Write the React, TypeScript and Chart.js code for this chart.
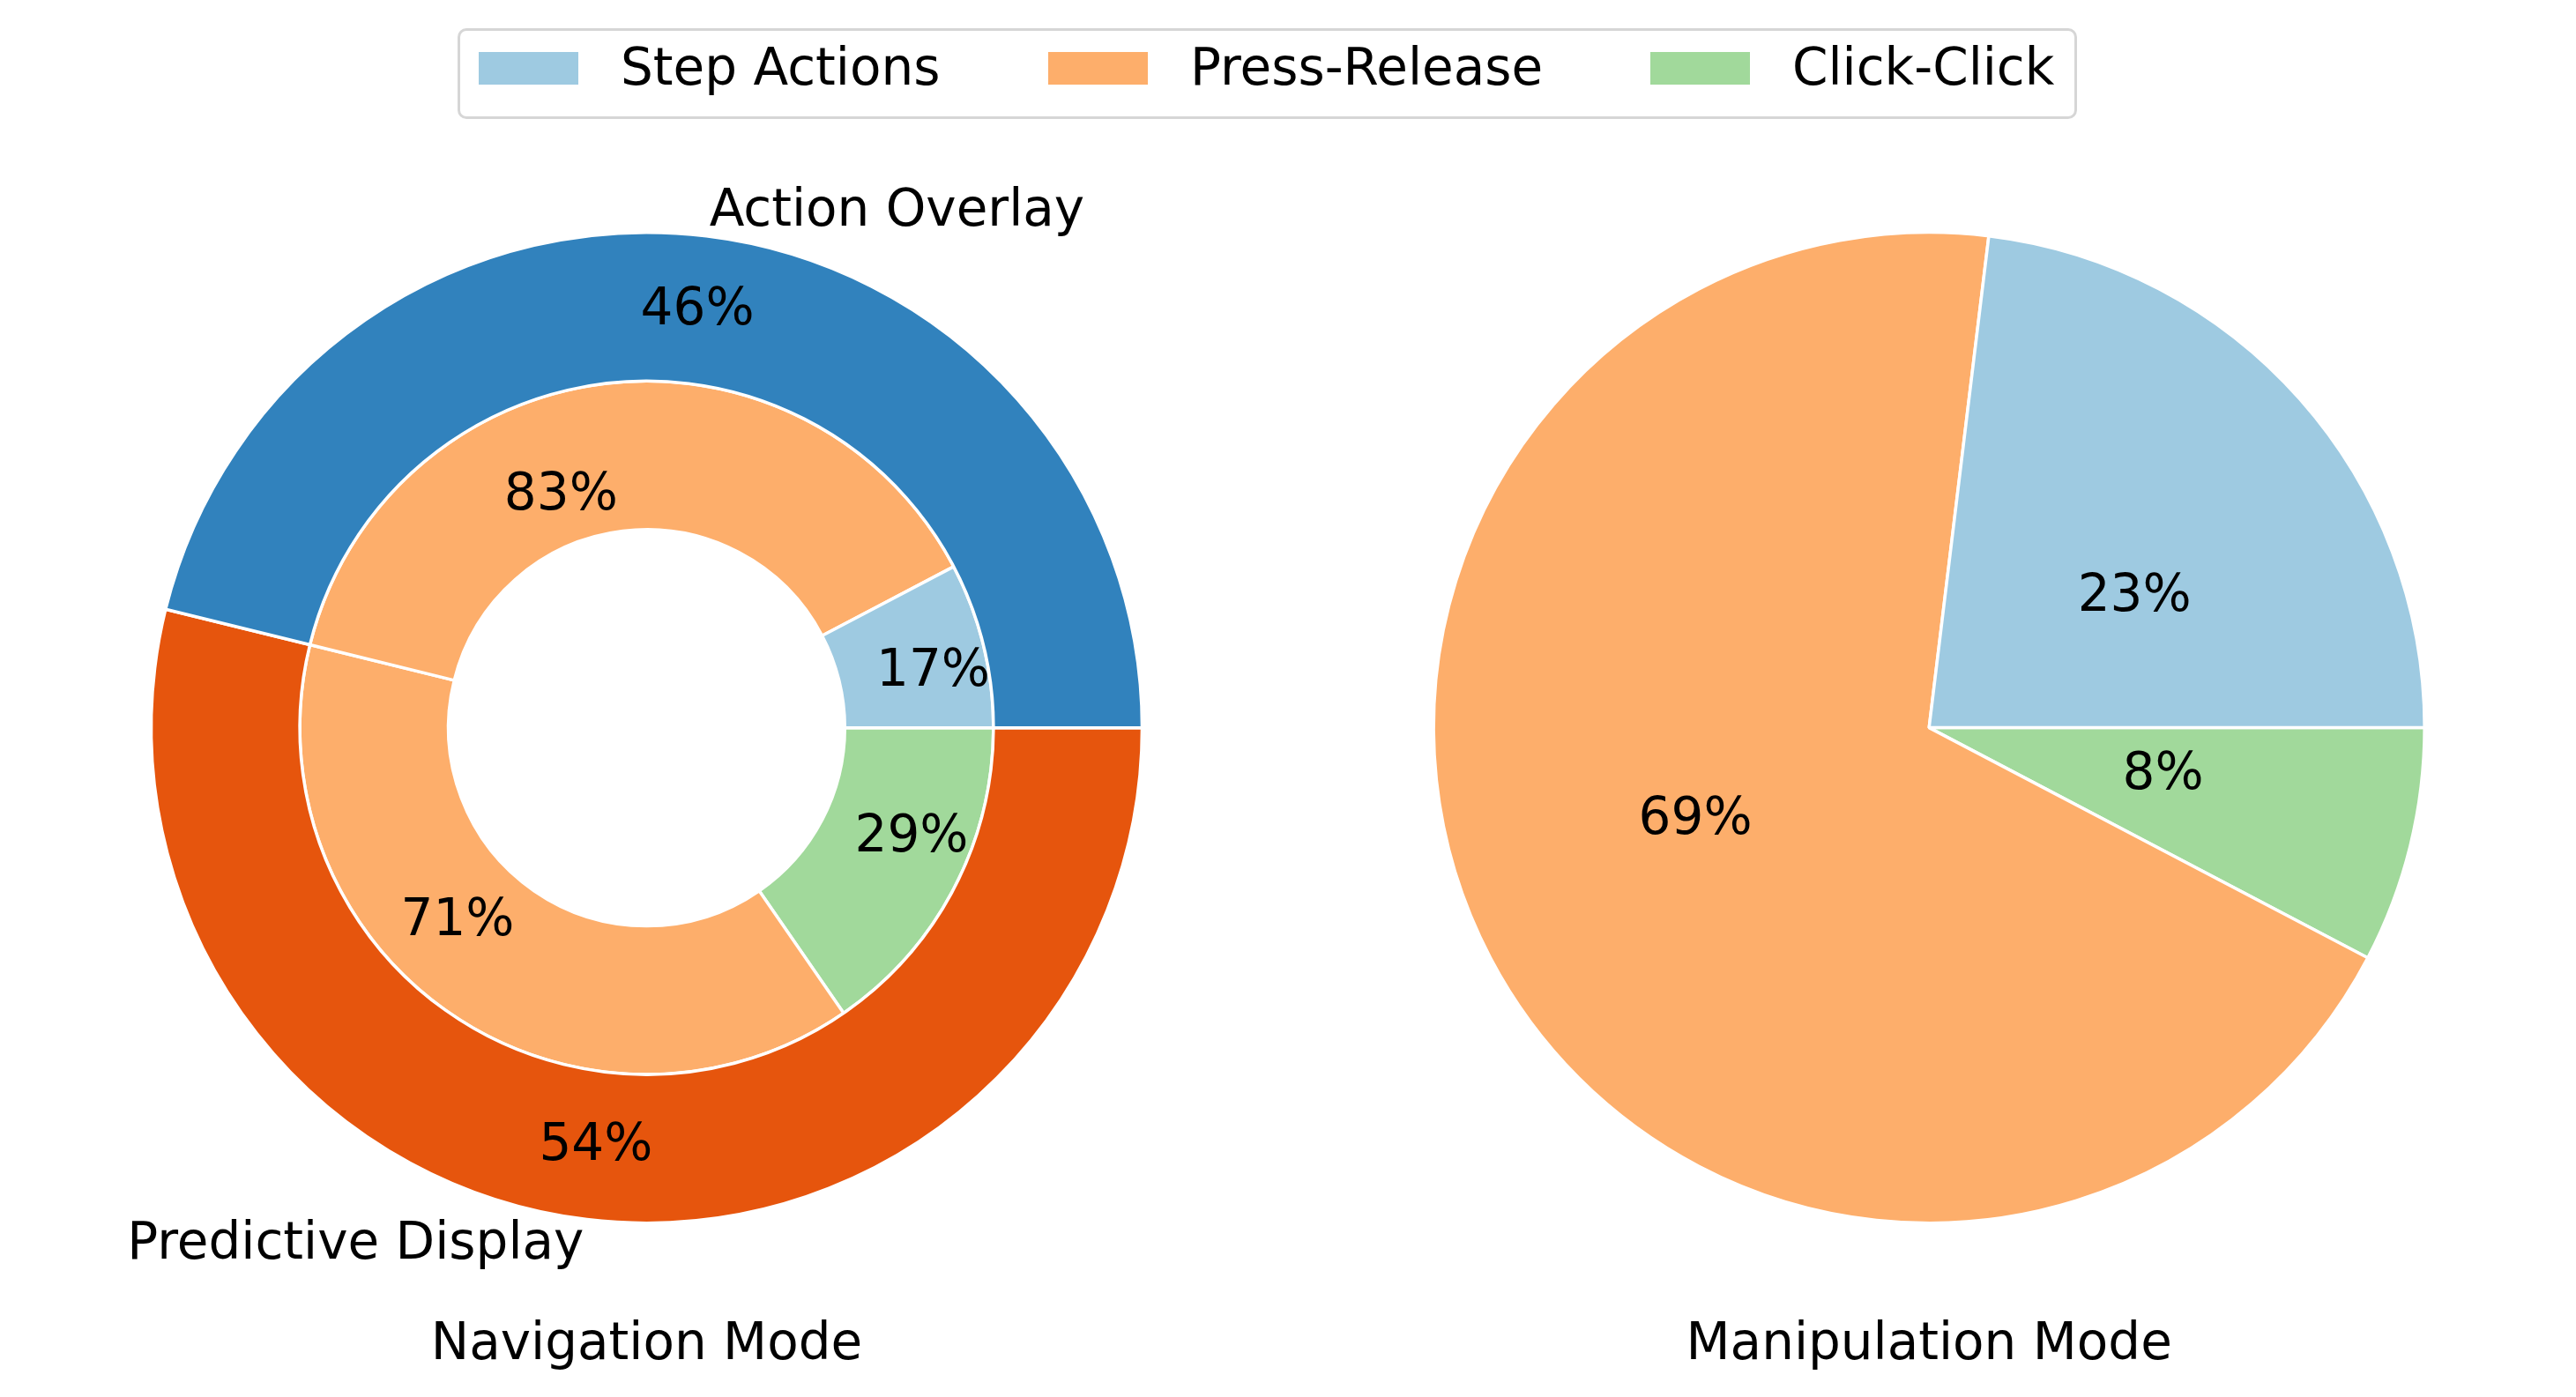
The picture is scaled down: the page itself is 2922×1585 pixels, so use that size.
import React, { useEffect, useRef } from 'react';
import { Chart, registerables } from 'chart.js';

Chart.register(...registerables);

// ---------------- data ----------------
const legendLabels = ['Step Actions', 'Press-Release', 'Click-Click'];
const legendColors = ['#9ecae1', '#fdae6b', '#a1d99b'];

const navGroupLabels = ['Action Overlay', 'Predictive Display'];
const navGroupColors = ['#3182bd', '#e6550d'];
const navOverlayCounts = [1, 5]; // Step Actions, Press-Release
const navOverlayColors = ['#9ecae1', '#fdae6b'];
const navPredictiveCounts = [5, 2]; // Press-Release, Click-Click
const navPredictiveColors = ['#fdae6b', '#a1d99b'];

const manipLabels = ['Step Actions', 'Press-Release', 'Click-Click'];
const manipCounts = [3, 9, 1];
const manipColors = ['#9ecae1', '#fdae6b', '#a1d99b'];

const subplotTitles = ['Navigation Mode', 'Manipulation Mode'];

// ---------------- layout ----------------
const W = 2922;
const H = 1585;
const PANEL_W = 1461;
const RADIUS = 562;
const LEFT_CENTER = { x: 733.5, y: 825.7 };
const RIGHT_CENTER = { x: 2188.2, y: 825.6 };
const FONT_PX = 58;
const FONT = `${FONT_PX}px "DejaVu Sans", sans-serif`;
const CAP_HALF = FONT_PX * 0.3645;
const TITLE_DY = 695.5;
const OUTER_PCT_DIST = 0.85;
const GROUP_LABEL_DIST = 1.05;
// [angle (deg, counter-clockwise from 3 o'clock), distance as fraction of radius]
const navInnerLabelPos = [
  [11.9, 0.591],
  [109.9, 0.508],
  [224.9, 0.539],
  [-21.6, 0.575],
];
const manipLabelPos = [
  [33.5, 0.497],
  [200.6, 0.504],
  [-10.3, 0.48],
];
const BORDER_W = 3.5;

const sum = (a: number[]) => a.reduce((s, v) => s + v, 0);
const pct = (v: number, total: number) => `${Math.round((v / total) * 100)}%`;

function drawInk(ctx: CanvasRenderingContext2D, text: string, x: number, inkCy: number, align: CanvasTextAlign = 'center') {
  ctx.font = FONT;
  ctx.fillStyle = '#000';
  ctx.textAlign = align;
  ctx.textBaseline = 'alphabetic';
  ctx.fillText(text, x, inkCy + CAP_HALF);
}

export default function App() {
  const leftRef = useRef<HTMLCanvasElement>(null);
  const rightRef = useRef<HTMLCanvasElement>(null);

  useEffect(() => {
    const charts: Chart[] = [];

    // ---- left: nested donut ----
    const groupTotals = [sum(navOverlayCounts), sum(navPredictiveCounts)];
    const navTotal = sum(groupTotals);
    const innerValues = [...navOverlayCounts, ...navPredictiveCounts];
    const innerColors = [...navOverlayColors, ...navPredictiveColors];
    const innerLabels = [
      ...navOverlayCounts.map((v) => pct(v, groupTotals[0])),
      ...navPredictiveCounts.map((v) => pct(v, groupTotals[1])),
    ];

    const leftPlugin = {
      id: 'navLabels',
      afterDatasetsDraw(chart: any) {
        const ctx: CanvasRenderingContext2D = chart.ctx;
        const meta = chart.getDatasetMeta(0);
        const arcs = meta.data;
        const n = groupTotals.length;
        let cx = 0;
        let cy = 0;
        let R = RADIUS;
        ctx.save();
        arcs.forEach((arc: any, i: number) => {
          const idx = n - 1 - i;
          const p = arc.getProps(['x', 'y', 'startAngle', 'endAngle', 'outerRadius'], true);
          cx = p.x;
          cy = p.y;
          R = p.outerRadius;
          const mid = (p.startAngle + p.endAngle) / 2;
          const px = p.x + OUTER_PCT_DIST * R * Math.cos(mid);
          const py = p.y + OUTER_PCT_DIST * R * Math.sin(mid);
          drawInk(ctx, pct(groupTotals[idx], navTotal), px, py - 5);
          const lx = p.x + GROUP_LABEL_DIST * R * Math.cos(mid);
          const ly = p.y + GROUP_LABEL_DIST * R * Math.sin(mid);
          drawInk(ctx, navGroupLabels[idx], lx, ly - 5, Math.cos(mid) >= 0 ? 'left' : 'right');
        });
        innerLabels.forEach((t, i) => {
          const [a, f] = navInnerLabelPos[i];
          const rad = (a * Math.PI) / 180;
          drawInk(ctx, t, cx + f * R * Math.cos(rad), cy - f * R * Math.sin(rad));
        });
        drawInk(ctx, subplotTitles[0], cx, cy + TITLE_DY);
        ctx.restore();
      },
    };

    if (leftRef.current) {
      charts.push(
        new Chart(leftRef.current, {
          type: 'doughnut',
          data: {
            labels: innerValues.map((_, i) => String(i)),
            datasets: [
              {
                data: [...groupTotals].reverse(),
                backgroundColor: [...navGroupColors].reverse(),
                borderColor: '#ffffff',
                borderWidth: BORDER_W,
              },
              {
                data: [...innerValues].reverse(),
                backgroundColor: [...innerColors].reverse(),
                borderColor: '#ffffff',
                borderWidth: BORDER_W,
              },
            ],
          },
          options: {
            animation: false,
            responsive: false,
            maintainAspectRatio: false,
            events: [],
            rotation: 90,
            cutout: '40%',
            radius: RADIUS,
            layout: {
              padding: {
                left: 2 * LEFT_CENTER.x - PANEL_W,
                top: 2 * LEFT_CENTER.y - H,
                right: 0,
                bottom: 0,
              },
            },
            plugins: {
              legend: { display: false },
              tooltip: { enabled: false },
              title: { display: false },
            },
          } as any,
          plugins: [leftPlugin],
        })
      );
    }

    // ---- right: pie ----
    const manipTotal = sum(manipCounts);
    const rightPlugin = {
      id: 'manipLabels',
      afterDatasetsDraw(chart: any) {
        const ctx: CanvasRenderingContext2D = chart.ctx;
        const arc = chart.getDatasetMeta(0).data[0];
        const p = arc.getProps(['x', 'y', 'outerRadius'], true);
        ctx.save();
        manipCounts.forEach((v, i) => {
          const [a, f] = manipLabelPos[i];
          const rad = (a * Math.PI) / 180;
          drawInk(ctx, pct(v, manipTotal), p.x + f * p.outerRadius * Math.cos(rad), p.y - f * p.outerRadius * Math.sin(rad));
        });
        drawInk(ctx, subplotTitles[1], p.x, p.y + TITLE_DY);
        ctx.restore();
      },
    };

    if (rightRef.current) {
      const localCx = RIGHT_CENTER.x - PANEL_W;
      charts.push(
        new Chart(rightRef.current, {
          type: 'pie',
          data: {
            labels: [...manipLabels].reverse(),
            datasets: [
              {
                data: [...manipCounts].reverse(),
                backgroundColor: [...manipColors].reverse(),
                borderColor: '#ffffff',
                borderWidth: BORDER_W,
              },
            ],
          },
          options: {
            animation: false,
            responsive: false,
            maintainAspectRatio: false,
            events: [],
            rotation: 90,
            radius: RADIUS,
            layout: {
              padding: {
                left: 0,
                top: 2 * RIGHT_CENTER.y - H,
                right: (W - PANEL_W) - 2 * localCx,
                bottom: 0,
              },
            },
            plugins: {
              legend: { display: false },
              tooltip: { enabled: false },
              title: { display: false },
            },
          } as any,
          plugins: [rightPlugin],
        })
      );
    }

    return () => charts.forEach((c) => c.destroy());
  }, []);

  const patchLefts = [543, 1189, 1872];
  const textLefts = [704, 1350, 2033];

  return (
    <div
      style={{
        position: 'fixed',
        left: 0,
        top: 0,
        width: W,
        height: H,
        background: '#ffffff',
        overflow: 'hidden',
        fontFamily: '"DejaVu Sans", sans-serif',
      }}
    >
      <canvas
        ref={leftRef}
        width={PANEL_W}
        height={H}
        style={{ position: 'absolute', left: 0, top: 0, width: PANEL_W, height: H }}
      />
      <canvas
        ref={rightRef}
        width={W - PANEL_W}
        height={H}
        style={{ position: 'absolute', left: PANEL_W, top: 0, width: W - PANEL_W, height: H }}
      />
      <div
        style={{
          position: 'absolute',
          left: 519,
          top: 32,
          width: 1837,
          height: 103,
          boxSizing: 'border-box',
          border: '3px solid #d6d6d6',
          borderRadius: 10,
          background: '#ffffff',
        }}
      />
      {legendLabels.map((lab, i) => (
        <React.Fragment key={lab}>
          <div
            style={{
              position: 'absolute',
              left: patchLefts[i],
              top: 59,
              width: 113,
              height: 37,
              background: legendColors[i],
            }}
          />
          <div
            style={{
              position: 'absolute',
              left: textLefts[i],
              top: 76,
              lineHeight: '0px',
              fontSize: FONT_PX,
              color: '#000',
              whiteSpace: 'nowrap',
            }}
          >
            {lab}
          </div>
        </React.Fragment>
      ))}
    </div>
  );
}
